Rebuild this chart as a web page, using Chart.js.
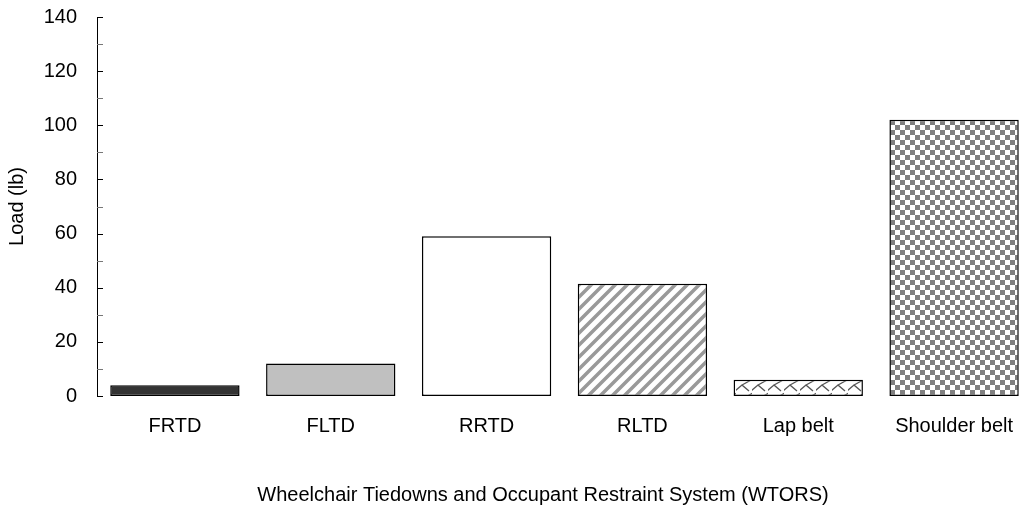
<!DOCTYPE html>
<html>
<head>
<meta charset="utf-8">
<script src="https://cdn.jsdelivr.net/npm/chart.js@4"></script>
<style>
  html, body { margin: 0; padding: 0; background: #fff; overflow: hidden; }
  #wrap { width: 1034px; height: 510px; }
</style>
</head>
<body>
<div id="wrap"><canvas id="chart" width="1034" height="510"></canvas></div>
<script>
// --- Data ---
const categories = ['FRTD', 'FLTD', 'RRTD', 'RLTD', 'Lap belt', 'Shoulder belt'];
const loads = [4, 12, 59, 41.5, 6, 102];
const yTicks = [0, 20, 40, 60, 80, 100, 120, 140];
const xTitle = 'Wheelchair Tiedowns and Occupant Restraint System (WTORS)';

const FONT = '"Liberation Sans", Arial, sans-serif';

// --- Fill patterns ---
function tile(w, h, draw) {
  const c = document.createElement('canvas');
  c.width = w; c.height = h;
  const g = c.getContext('2d');
  g.fillStyle = '#fff';
  g.fillRect(0, 0, w, h);
  draw(g);
  return document.getElementById('chart').getContext('2d').createPattern(c, 'repeat');
}

const stripes = tile(12, 12, g => {
  g.strokeStyle = '#999';
  g.lineWidth = 3.5;
  g.beginPath();
  g.moveTo(-3, 15); g.lineTo(15, -3);
  g.moveTo(-9, 9); g.lineTo(9, -9);
  g.moveTo(3, 21); g.lineTo(21, 3);
  g.stroke();
});

const zigzag = tile(16, 14, g => {
  g.strokeStyle = '#555';
  g.lineWidth = 1.3;
  g.beginPath();
  g.moveTo(17, 1); g.lineTo(6, 7); g.lineTo(13, 13);
  g.moveTo(-1, 13); g.lineTo(6, 7);
  g.stroke();
});

const checker = tile(10, 10, g => {
  g.fillStyle = '#808080';
  g.fillRect(0, 0, 5, 5);
  g.fillRect(5, 5, 5, 5);
});

const fills = ['#333333', '#c0c0c0', '#ffffff', stripes, zigzag, checker];

// --- Inside tick marks on the value axis + category axis title ---
const axisDecor = {
  id: 'axisDecor',
  afterDraw(chart) {
    const y = chart.scales.y;
    const ctx = chart.ctx;
    const x0 = chart.chartArea.left;
    ctx.save();
    for (let v = 0; v <= 140; v += 10) {
      const py = Math.round(y.getPixelForValue(v)) + 0.5;
      const major = v % 20 === 0;
      ctx.strokeStyle = major ? '#000' : '#777';
      ctx.lineWidth = 1;
      ctx.beginPath();
      ctx.moveTo(x0, py);
      ctx.lineTo(x0 + 6, py);
      ctx.stroke();
    }
    ctx.fillStyle = '#000';
    ctx.font = '20px ' + FONT;
    ctx.textAlign = 'center';
    ctx.textBaseline = 'middle';
    ctx.fillText(xTitle, 543, 495);
    ctx.restore();
  }
};

new Chart(document.getElementById('chart'), {
  type: 'bar',
  data: {
    labels: categories,
    datasets: [{
      data: loads,
      backgroundColor: fills,
      borderColor: '#000',
      borderWidth: 1.5,
      borderSkipped: false,
      categoryPercentage: 1,
      barPercentage: 0.83
    }]
  },
  options: {
    responsive: false,
    animation: false,
    layout: { padding: { top: 17, right: 2, left: 0, bottom: 0 } },
    plugins: {
      legend: { display: false },
      tooltip: { enabled: false }
    },
    scales: {
      x: {
        grid: { display: false },
        border: { display: false },
        ticks: { color: '#000', font: { family: FONT, size: 20 }, padding: 10, maxRotation: 0 },
        afterFit(s) { s.height = 114; }
      },
      y: {
        min: 0,
        max: 140,
        afterBuildTicks(s) { s.ticks = yTicks.map(v => ({ value: v })); },
        grid: { display: false, drawTicks: false },
        border: { display: true, color: '#000', width: 1 },
        ticks: { color: '#000', font: { family: FONT, size: 20 }, padding: 20 },
        title: {
          display: true,
          text: 'Load (lb)',
          color: '#000',
          font: { family: FONT, size: 20 },
          padding: { top: 5, bottom: 0 }
        },
        afterFit(s) { s.width = 97; s.paddingTop = 0; s.paddingBottom = 0; }
      }
    }
  },
  plugins: [axisDecor]
});
</script>
</body>
</html>
